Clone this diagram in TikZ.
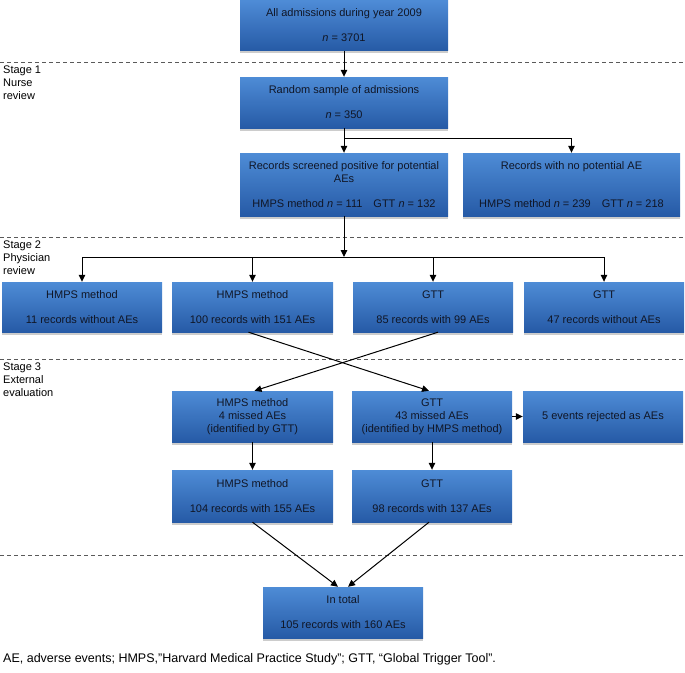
\documentclass[tikz,border=0pt]{standalone}
\usepackage{fontspec}
\setmainfont{Liberation Sans}
\usepackage{tikz}
\usetikzlibrary{arrows.meta,positioning,shadows}

\definecolor{boxtop}{RGB}{78,140,214}
\definecolor{boxbot}{RGB}{38,90,166}
\definecolor{boxtext}{RGB}{16,22,38}
\definecolor{sepgray}{RGB}{90,90,90}

\tikzset{
  stagebox/.style={rectangle, top color=boxtop, bottom color=boxbot, text=boxtext,
    align=center, inner sep=0pt, font=\fontsize{11}{13}\selectfont,
    drop shadow={shadow xshift=0pt, shadow yshift=-2.5pt, opacity=0.4}},
  flow/.style={-{Triangle[length=7pt,width=6.5pt]}, line width=1pt},
  stageline/.style={sepgray, dashed, dash pattern=on 4pt off 3pt, line width=0.9pt},
  stagelabel/.style={anchor=north west, align=left, inner sep=0pt,
    font=\fontsize{11}{13}\selectfont}
}

\begin{document}
\begin{tikzpicture}[x=1pt,y=-1pt]
      \useasboundingbox (0,0) rectangle (685,672);

      % stage separators
      \foreach \yy in {62,237,359,555}
        \draw[stageline] (0,\yy) -- (685,\yy);

      \node[stagelabel] (s1) at (3,66) {Stage 1\\Nurse\\review};
      \node[stagelabel] (s2) at (3,241) {Stage 2\\Physician\\review};
      \node[stagelabel] (s3) at (3,363) {Stage 3\\External\\evaluation};

      % top
      \node[stagebox, minimum width=208pt, minimum height=50pt] (all) at (344,25.5)
        {All admissions during year 2009\\[12pt]\textit{n} = 3701};
      \node[stagebox, minimum width=208pt, minimum height=51pt] (sample) at (344,102.5)
        {Random sample of admissions\\[12pt]\textit{n} = 350};
      \node[stagebox, minimum width=208pt, minimum height=63pt] (pos) at (344,184.5)
        {Records screened positive for potential\\AEs\\[12pt]HMPS method \textit{n} = 111\quad GTT \textit{n} = 132};
      \node[stagebox, minimum width=217pt, minimum height=63pt] (neg) at (571.5,184.5)
        {Records with no potential AE\\[25pt]HMPS method \textit{n} = 239\quad GTT \textit{n} = 218};

      % physician review
      \node[stagebox, minimum width=160pt, minimum height=50pt] (hmpsno) at (82,307)
        {HMPS method\\[12pt]11 records without AEs};
      \node[stagebox, minimum width=161pt, minimum height=50pt] (hmpsyes) at (252.5,307)
        {HMPS method\\[12pt]100 records with 151 AEs};
      \node[stagebox, minimum width=160pt, minimum height=50pt] (gttyes) at (433,307)
        {GTT\\[12pt]85 records with 99 AEs};
      \node[stagebox, minimum width=160pt, minimum height=50pt] (gttno) at (604,307)
        {GTT\\[12pt]47 records without AEs};

      % external evaluation
      \node[stagebox, minimum width=161pt, minimum height=51pt] (hmpsmiss) at (252.5,416.5)
        {HMPS method\\4 missed AEs\\(identified by GTT)};
      \node[stagebox, minimum width=160pt, minimum height=51pt] (gttmiss) at (432,416.5)
        {GTT\\43 missed AEs\\(identified by HMPS method)};
      \node[stagebox, minimum width=160pt, minimum height=51pt] (reject) at (603,416.5)
        {5 events rejected as AEs};
      \node[stagebox, minimum width=161pt, minimum height=52pt] (hmpsfin) at (252.5,496)
        {HMPS method\\[12pt]104 records with 155 AEs};
      \node[stagebox, minimum width=160pt, minimum height=52pt] (gttfin) at (432,496)
        {GTT\\[12pt]98 records with 137 AEs};
      \node[stagebox, minimum width=160pt, minimum height=51pt] (total) at (343,612.5)
        {In total\\[12pt]105 records with 160 AEs};

      \node[anchor=west, inner sep=0pt, font=\fontsize{12.5}{15}\selectfont] (note) at (3,659)
        {AE, adverse events; HMPS,"Harvard Medical Practice Study”; GTT, “Global Trigger Tool”.};

      % connectors
      \coordinate (split1) at (344,138);
      \coordinate (split2) at (344,257);

      \draw[flow] (all) -- (sample);
      \draw[line width=1pt] (sample.south) -- (split1);
      \draw[flow] (split1) -- (pos.north);
      \draw[flow] (split1) -| (neg.north);

      \draw[flow] (pos.south) -- (split2);
      \draw[line width=1pt] (hmpsno.north |- split2) -- (gttno.north |- split2);
      \foreach \nn in {hmpsno,hmpsyes,gttyes,gttno}
        \draw[flow] (\nn.north |- split2) -- (\nn.north);

      \draw[flow] ([xshift=-4pt]hmpsyes.south) -- ([xshift=-3pt]gttmiss.north);
      \draw[flow] ([xshift=5pt]gttyes.south) -- ([xshift=2pt]hmpsmiss.north);

      \draw[flow] (gttmiss) -- (reject);
      \draw[flow] (hmpsmiss) -- (hmpsfin);
      \draw[flow] (gttmiss) -- (gttfin);

      \draw[flow] (hmpsfin.south) -- ([xshift=-5pt]total.north);
      \draw[flow] ([xshift=-3pt]gttfin.south) -- ([xshift=5pt]total.north);
    \end{tikzpicture}
\end{document}
